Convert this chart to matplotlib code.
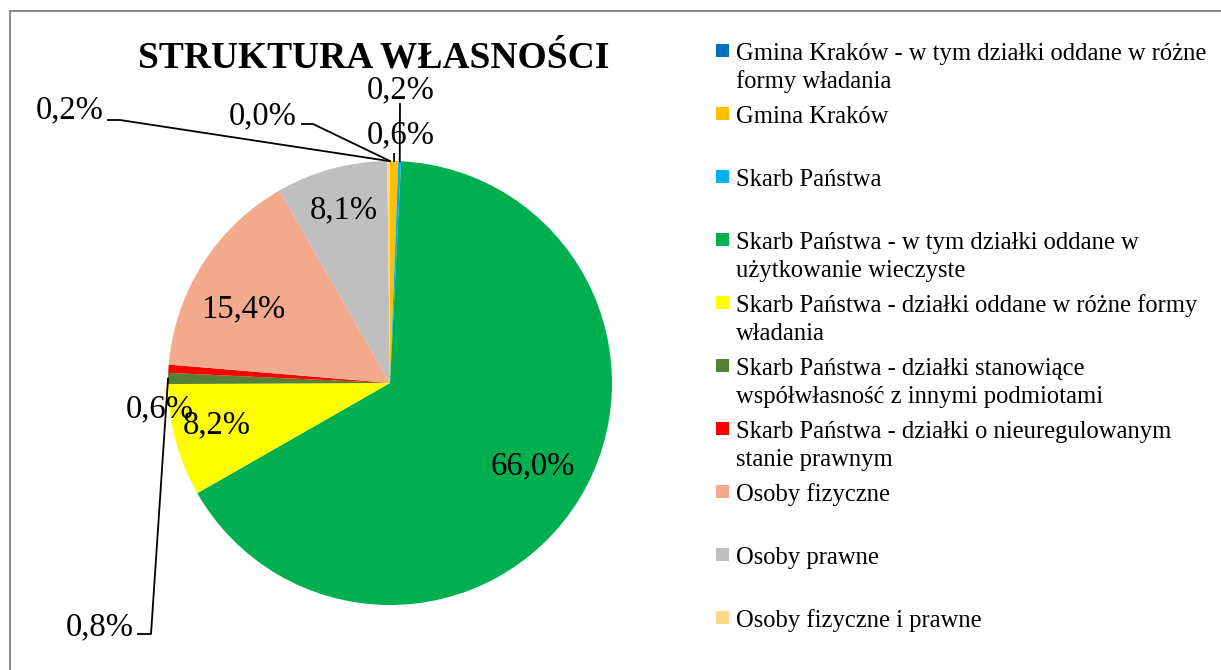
import matplotlib
matplotlib.use("Agg")
import matplotlib.pyplot as plt
import numpy as np
from matplotlib.patches import Rectangle
from matplotlib.lines import Line2D

plt.rcParams['font.family'] = ['Liberation Serif', 'DejaVu Serif']

# ---- data ----
title = "STRUKTURA WŁASNOŚCI"
categories = [
    "Gmina Kraków - w tym działki oddane w różne\nformy władania",
    "Gmina Kraków",
    "Skarb Państwa",
    "Skarb Państwa - w tym działki oddane w\nużytkowanie wieczyste",
    "Skarb Państwa - działki oddane w różne formy\nwładania",
    "Skarb Państwa - działki stanowiące\nwspółwłasność z innymi podmiotami",
    "Skarb Państwa - działki o nieuregulowanym\nstanie prawnym",
    "Osoby fizyczne",
    "Osoby prawne",
    "Osoby fizyczne i prawne",
]
values = [0.0, 0.6, 0.2, 66.0, 8.2, 0.8, 0.6, 15.4, 8.1, 0.2]
colors = ["#0070C0", "#FFC000", "#00B0F0", "#00B050", "#FFFF00",
          "#548235", "#FF0000", "#F2A98C", "#BFBFBF", "#FFD68C"]

# ---- layout helpers (pixel -> figure fraction) ----
W, H = 1221, 670
def fx(px): return px / W
def fy(py): return 1 - py / H

fig = plt.figure(figsize=(W / 100, H / 100), dpi=100)

# border (top and left visible)
fig.add_artist(Line2D([fx(10), fx(10)], [fy(11), 0], color="#8c8c8c", lw=1.5))
fig.add_artist(Line2D([fx(10), 1], [fy(11), fy(11)], color="#8c8c8c", lw=1.5))

# pie axes: center (390,383) px, radius 222 px
cx, cy, R = 390, 383, 222
ax = fig.add_axes([fx(cx - R), fy(cy + R), 2 * R / W, 2 * R / H])
wedges, _ = ax.pie(values, colors=colors, startangle=90, counterclock=False,
                   wedgeprops=dict(linewidth=0))
ax.set_xlim(-1, 1)
ax.set_ylim(-1, 1)
ax.set_aspect("equal")
ax.axis("off")

def p2d(px, py):
    return ((px - cx) / R, (cy - py) / R)

def anchor(w, r=1.0):
    th = np.deg2rad((w.theta1 + w.theta2) / 2)
    return (r * np.cos(th), r * np.sin(th))

# label positions (pixel centers) and optional leader-line elbows
label_pos = [(263, 116), (401, 135), (401, 90), (533, 466), (217, 425),
             (100, 627), (160, 409), (243, 309), (344, 210), (70, 110)]
elbows = {
    0: [(302, 124), (313, 124)],
    2: [(400, 104)],
    1: [(394, 154)],
    5: [(138, 634), (151, 634)],
    9: [(108, 120), (120, 120)],
}
fs = 23.5
for i, (v, w) in enumerate(zip(values, wedges)):
    txt = f"{v:.1f}%".replace(".", ",")
    x, y = p2d(*label_pos[i])
    ax.text(x, y, txt, ha="center", va="center", fontsize=fs, clip_on=False)
    if i in elbows:
        pts = [p2d(*p) for p in elbows[i]] + [anchor(w)]
        xs, ys = zip(*pts)
        ax.plot(xs, ys, color="black", lw=1.3, clip_on=False)

# title
fig.text(fx(374), fy(68), title, ha="center", va="baseline",
         fontsize=27, fontweight="bold")

# legend (manual)
lx, tx = 716, 736
for i, (cat, col) in enumerate(zip(categories, colors)):
    base = 60 + 63 * i
    fig.add_artist(Rectangle((fx(lx), fy(base - 3)), 13 / W, 13 / H,
                             facecolor=col, edgecolor="none"))
    for j, line in enumerate(cat.split("\n")):
        fig.text(fx(tx), fy(base + 28 * j), line, ha="left", va="baseline",
                 fontsize=17.7)

fig.savefig("out.png", dpi=100)
